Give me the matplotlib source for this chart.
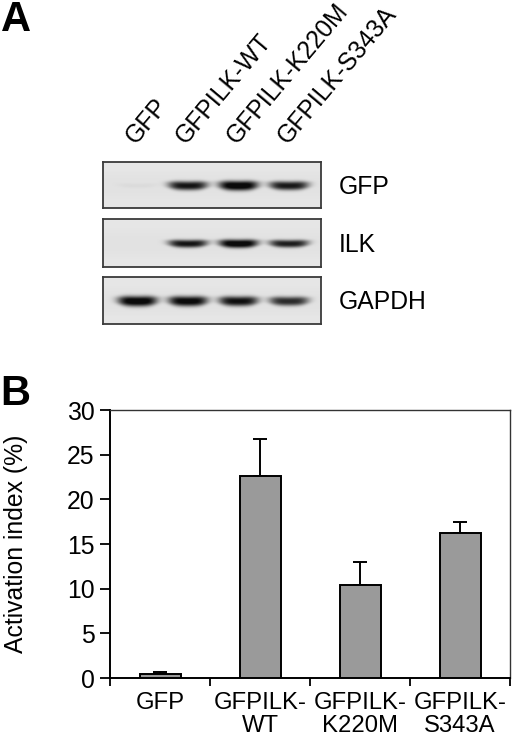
import numpy as np
import matplotlib
matplotlib.use('Agg')
import matplotlib.pyplot as plt

plt.rcParams['font.family'] = ['Liberation Sans', 'DejaVu Sans']

# ---------------- data ----------------
lanes = ['GFP', 'GFPILK-WT', 'GFPILK-K220M', 'GFPILK-S343A']
blot_rows = ['GFP', 'ILK', 'GAPDH']
gfp_band = [0.03, 0.86, 1.0, 0.84]
ilk_band = [0.0, 0.86, 1.0, 0.82]
gapdh_band = [0.98, 0.94, 0.88, 0.76]

categories = ['GFP', 'GFPILK-\nWT', 'GFPILK-\nK220M', 'GFPILK-\nS343A']
activation = [0.45, 22.6, 10.4, 16.2]
activation_err = [0.2, 4.1, 2.6, 1.3]
yticks = [0, 5, 10, 15, 20, 25, 30]

# ---------------- layout helpers ----------------
W, H = 520, 747
fig = plt.figure(figsize=(W / 100, H / 100), dpi=100)


def px(x0, y0, x1, y1):
    return [x0 / W, 1 - y1 / H, (x1 - x0) / W, (y1 - y0) / H]


FS = 17.8
FSX = 17.2

# ---------------- panel A : blot ----------------
fig.text(1 / W, 1 - 0 / H, 'A', fontsize=30, fontweight='bold', ha='left', va='top')

row_boxes = [(162, 208), (219, 267), (277, 324)]
row_bands = [gfp_band, ilk_band, gapdh_band]
row_thick = [4.8, 4.2, 5.2]
xl = (-0.68, 3.63)
for (y0, y1), bands, thick, name in zip(row_boxes, row_bands, row_thick, blot_rows):
    ax = fig.add_axes(px(103, y0, 321, y1))
    hpx = y1 - y0
    nx, ny = 436, hpx * 3
    xs = np.linspace(xl[0], xl[1], nx)
    ys = np.linspace(0, hpx, ny)
    X, Y = np.meshgrid(xs, ys)
    dark = np.zeros_like(X)
    yc = hpx / 2 + 0.8
    for i, inten in enumerate(bands):
        hw = 0.39
        t = thick * (0.45 + 0.55 * inten)
        dx = (X - i) / hw
        prof_x = np.exp(-np.abs(dx) ** 4)
        ycur = yc - 1.0 * dx ** 2
        prof_y = np.exp(-(np.abs(Y - ycur) / (t * (0.7 + 0.3 * prof_x))) ** 2.6)
        dark += inten * prof_x * prof_y
    dark = np.clip(dark * 1.1, 0, 1.0)
    bg = 0.91 - 0.025 * np.exp(-((Y - yc) / (hpx * 0.35)) ** 2)
    img = bg - dark * 0.86
    img = np.clip(img, 0.04, 1)
    ax.imshow(img, cmap='gray', vmin=0, vmax=1, aspect='auto',
              extent=[xl[0], xl[1], hpx, 0], interpolation='bilinear')
    ax.set_xlim(xl)
    ax.set_ylim(hpx, 0)
    ax.set_xticks([])
    ax.set_yticks([])
    for s in ax.spines.values():
        s.set_color('#3a3a3a')
        s.set_linewidth(1.3)
    fig.text(339 / W, 1 - ((y0 + y1) / 2 + 1.5) / H, name, fontsize=FS,
             ha='left', va='center')

# lane labels (rotated)
lane_x = [137.5, 188.0, 239.0, 289.5]
for lx, lab in zip(lane_x, lanes):
    fig.text((lx - 2) / W, 1 - 145 / H, lab, fontsize=FS, rotation=50,
             rotation_mode='anchor', ha='left', va='baseline')

# ---------------- panel B : bar chart ----------------
fig.text(0 / W, 1 - 374 / H, 'B', fontsize=30, fontweight='bold', ha='left', va='top')

axb = fig.add_axes(px(110, 410, 510, 678))
x = np.arange(len(categories))
axb.errorbar(x, activation, yerr=[np.zeros(len(x)), activation_err], fmt='none',
             ecolor='black', elinewidth=1.4, capsize=5, capthick=1.4, zorder=2)
axb.bar(x, activation, width=0.41, color='#9a9a9a', edgecolor='black',
        linewidth=1.4, zorder=3)
axb.set_xlim(-0.5, 3.5)
axb.set_ylim(0, 30)
axb.set_xticks(np.arange(-0.5, 4.0, 1.0))
axb.set_xticklabels([])
axb.set_xticks(x, minor=True)
axb.set_xticklabels(categories, minor=True, fontsize=FSX, linespacing=1.08)
axb.tick_params(axis='x', which='minor', length=0, pad=10)
axb.tick_params(axis='x', which='major', direction='out', length=6, width=1.3)
axb.set_yticks(yticks)
axb.set_yticklabels([str(v) for v in yticks], fontsize=FS)
axb.tick_params(axis='y', direction='out', length=7, width=1.3, pad=4)
for s in ['left', 'bottom']:
    axb.spines[s].set_linewidth(1.4)
for s in ['top', 'right']:
    axb.spines[s].set_linewidth(1.0)
    axb.spines[s].set_color('#333333')

fig.text(16 / W, 1 - 544 / H, 'Activation index (%)', fontsize=FS,
         rotation=90, ha='center', va='center')

fig.savefig('out.png', dpi=100)
